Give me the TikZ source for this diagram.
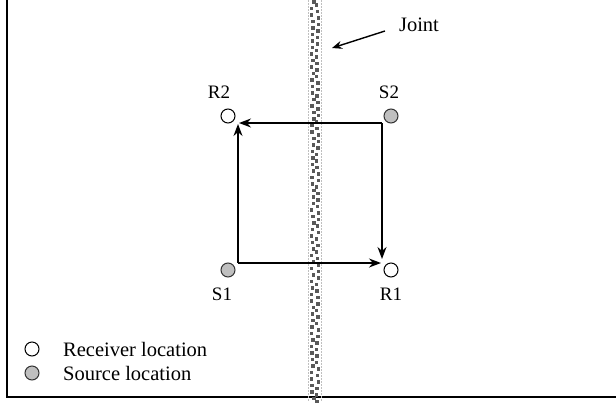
\documentclass[tikz,border=0pt]{standalone}
\usepackage{fontspec}
\setmainfont{Liberation Serif}
\usetikzlibrary{arrows.meta}
\tikzset{
  rcv/.style={circle, draw=black, line width=1pt, fill=white, minimum size=14pt, inner sep=0pt},
  src/.style={circle, draw=black!80, line width=1pt, fill=black!25, minimum size=14pt, inner sep=0pt},
  lbl/.style={font=\fontsize{19}{21}\selectfont, inner sep=0pt},
  biglbl/.style={font=\fontsize{20.5}{23}\selectfont, inner sep=0pt},
  conn/.style={line width=1.4pt, -{Stealth[length=12pt,width=9pt]}},
  frameline/.style={line width=1.7pt, black}
}
\begin{document}
\begin{tikzpicture}[x=1pt,y=-1pt]
\useasboundingbox (0,0) rectangle (616,402);
% frame
\draw[frameline] (7,0) -- (7,397) -- (616,397);
% joint strip
\draw[black!25, line width=0.8pt, dash pattern=on 1.5pt off 1.5pt] (308,0) -- (308,402);
\draw[black!25, line width=0.8pt, dash pattern=on 1.5pt off 1.5pt] (321,0) -- (321,402);
\pgfmathsetseed{7}
\foreach \i in {0,...,62}{
  \pgfmathsetmacro{\yy}{\i*6.5}
  \pgfmathsetmacro{\xa}{309.5+3*rnd}
  \pgfmathsetmacro{\xb}{314.5+2.5*rnd}
  \fill[black!65] (\xa,\yy) rectangle ++(3.5,3.5);
  \fill[black!65] (\xb,\yy+3.2) rectangle ++(3.5,3.5);
}
% locations
\node[rcv] (R2) at (228,116) {};
\node[src] (S2) at (391,116) {};
\node[src] (S1) at (228,270) {};
\node[rcv] (R1) at (391,270) {};
\node[lbl] (lR2) at (219,92) {R2};
\node[lbl] (lS2) at (389,92) {S2};
\node[lbl] (lS1) at (222,294) {S1};
\node[lbl] (lR1) at (391,294) {R1};
% path corners
\coordinate (cS1) at (238,263);
\coordinate (cS2) at (382,123);
\coordinate (tR2a) at (238,124);
\coordinate (tR2b) at (239,123);
\coordinate (tR1a) at (382,259);
\coordinate (tR1b) at (381,263);
\draw[conn] (cS1) -- (tR2a);
\draw[conn] (cS1) -- (tR1b);
\draw[conn] (cS2) -- (tR2b);
\draw[conn] (cS2) -- (tR1a);
% joint label
\node[biglbl] (joint) at (419,25) {Joint};
\coordinate (jtail) at (385,31);
\coordinate (jtip) at (332,48);
\draw[line width=1.4pt, -{Stealth[length=10pt,width=8pt]}] (jtail) -- (jtip);
% legend
\node[rcv] (legR) at (32,349) {};
\node[src] (legS) at (32,373) {};
\node[biglbl, anchor=west] (legRt) at (63,349) {Receiver location};
\node[biglbl, anchor=west] (legSt) at (63,373) {Source location};
\end{tikzpicture}
\end{document}
